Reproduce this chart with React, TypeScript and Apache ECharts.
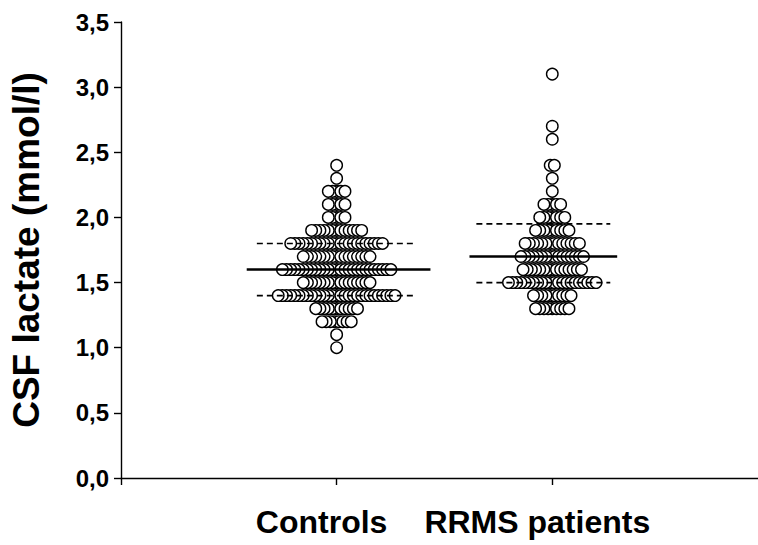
import React, { useEffect, useRef } from "react";
import * as echarts from "echarts";

// ---- data ----
const categories = ["Controls", "RRMS patients"];
const yTicks = [0, 0.5, 1, 1.5, 2, 2.5, 3, 3.5];

// value levels (mmol/l) and number of subjects at each level
const controlsLevels = [1.0, 1.1, 1.2, 1.3, 1.4, 1.5, 1.6, 1.7, 1.8, 1.9, 2.0, 2.1, 2.2, 2.3, 2.4];
const controlsCounts = [1, 1, 8, 11, 29, 17, 27, 17, 23, 13, 5, 5, 5, 1, 1];

const rrmsLevels = [1.3, 1.4, 1.5, 1.6, 1.7, 1.8, 1.9, 2.0, 2.1, 2.2, 2.3, 2.4, 2.6, 2.7, 3.1];
const rrmsCounts = [9, 10, 22, 15, 16, 14, 9, 7, 5, 1, 1, 2, 1, 1, 1];

// summary lines: mean (solid), upper / lower (dashed)
const controlsMean = 1.6;
const controlsBand = [1.4, 1.8];
const rrmsMean = 1.7;
const rrmsBand = [1.5, 1.95];

// ---- layout constants ----
const W = 758;
const H = 545;
const GRID_LEFT = 117;
const GRID_TOP = 22;
const GRID_BOTTOM = 67;
const X_MAX = 2.954;
const PX_PER_X = (W - GRID_LEFT) / X_MAX;
const STEP = 4.2 / PX_PER_X; // horizontal spacing between swarm dots
const FONT = "'Liberation Sans', Arial, Helvetica, sans-serif";

function swarm(center: number, levels: number[], counts: number[]) {
  const pts: { off: number; v: [number, number] }[] = [];
  levels.forEach((lv, i) => {
    const n = counts[i];
    for (let k = 0; k < n; k++) {
      const off = (k - (n - 1) / 2) * STEP;
      pts.push({ off: Math.abs(off), v: [center + off, lv] });
    }
  });
  // draw from the centre outwards
  pts.sort((a, b) => a.off - b.off);
  return pts.map((p) => p.v);
}

function seg(x0: number, x1: number, y: number) {
  return [
    [x0, y],
    [x1, y],
  ];
}

export default function App() {
  const ref = useRef<HTMLDivElement>(null);
  useEffect(() => {
    if (!ref.current) return;
    const chart = echarts.init(ref.current, null, { renderer: "svg" });
    const lineBase = {
      type: "line" as const,
      symbol: "none",
      silent: true,
      z: 5,
    };
    const dot = {
      type: "scatter" as const,
      symbol: "circle",
      symbolSize: 11.5,
      itemStyle: { color: "#fff", borderColor: "#000", borderWidth: 1.4, opacity: 1 },
      z: 2,
    };
    chart.setOption({
      animation: false,
      backgroundColor: "#ffffff",
      grid: { left: GRID_LEFT, right: 0, top: GRID_TOP, bottom: GRID_BOTTOM },
      xAxis: {
        type: "value",
        min: 0,
        max: X_MAX,
        interval: 1,
        splitLine: { show: false },
        axisLine: { show: true, lineStyle: { color: "#000", width: 1.4 } },
        axisTick: { show: true, length: 7, customValues: [0, 1, 2], lineStyle: { color: "#000", width: 1.4 } },
        axisLabel: {
          margin: 28,
          color: "#000",
          fontFamily: FONT,
          fontWeight: "bold",
          fontSize: 32,
          customValues: [1, 2],
          padding: [0, 30, 0, 0],
          formatter: (v: number) => categories[Math.round(v) - 1] ?? "",
        },
      },
      yAxis: {
        type: "value",
        min: 0,
        max: 3.5,
        interval: 0.5,
        name: "CSF lactate (mmol/l)",
        nameLocation: "middle",
        nameGap: 76,
        nameTextStyle: { color: "#000", fontFamily: FONT, fontWeight: "bold", fontSize: 37 },
        splitLine: { show: false },
        axisLine: { show: true, lineStyle: { color: "#000", width: 1.4 } },
        axisTick: { show: true, length: 7, lineStyle: { color: "#000", width: 1.4 } },
        axisLabel: {
          margin: 12,
          color: "#000",
          fontFamily: FONT,
          fontWeight: "bold",
          fontSize: 24,
          formatter: (v: number) => (yTicks.includes(v) ? v.toFixed(1).replace(".", ",") : ""),
        },
      },
      series: [
        { ...dot, data: swarm(1, controlsLevels, controlsCounts) },
        { ...dot, data: swarm(2, rrmsLevels, rrmsCounts) },
        { ...lineBase, data: seg(0.583, 1.435, controlsMean), lineStyle: { color: "#000", width: 2.6 } },
        { ...lineBase, data: seg(0.63, 1.366, controlsBand[0]), lineStyle: { color: "#000", width: 1.7, type: [6, 4] } },
        { ...lineBase, data: seg(0.63, 1.366, controlsBand[1]), lineStyle: { color: "#000", width: 1.7, type: [6, 4] } },
        { ...lineBase, data: seg(1.616, 2.301, rrmsMean), lineStyle: { color: "#000", width: 2.6 } },
        { ...lineBase, data: seg(1.648, 2.269, rrmsBand[0]), lineStyle: { color: "#000", width: 1.7, type: [6, 4] } },
        { ...lineBase, data: seg(1.648, 2.269, rrmsBand[1]), lineStyle: { color: "#000", width: 1.7, type: [6, 4] } },
      ],
    });
    return () => chart.dispose();
  }, []);
  return (
    <div
      ref={ref}
      style={{ position: "absolute", left: 0, top: 0, width: W, height: H, background: "#fff" }}
    />
  );
}
